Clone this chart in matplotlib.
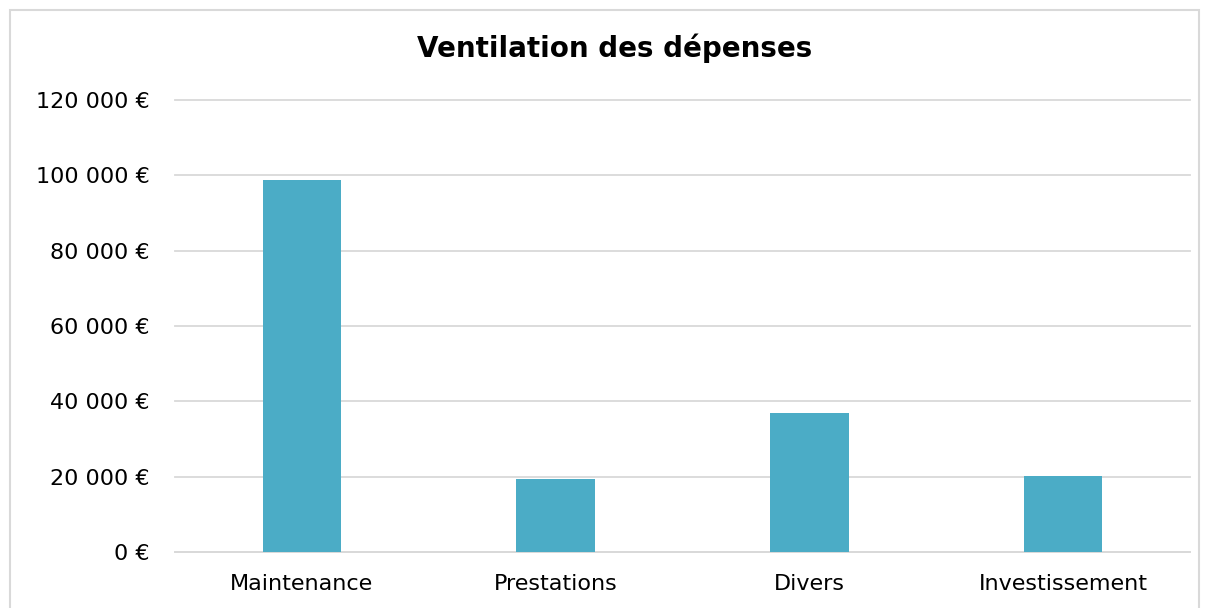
import matplotlib.pyplot as plt
from matplotlib.patches import Rectangle
from matplotlib.ticker import FuncFormatter

categories = ["Maintenance", "Prestations", "Divers", "Investissement"]
values = [98700, 19450, 36900, 20100]
yticks = [0, 20000, 40000, 60000, 80000, 100000, 120000]

plt.rcParams['font.family'] = ['DejaVu Sans']

fig = plt.figure(figsize=(12.09, 6.08), dpi=100)
ax = fig.add_axes([175 / 1209, 1 - 552 / 608, (1190 - 175) / 1209, (552 - 100) / 608])

# chart border like excel
fig.patches.append(Rectangle((10 / 1209, -0.1), (1199 - 10) / 1209, 1.1 - 10 / 608,
                             transform=fig.transFigure, fill=False,
                             edgecolor='#D9D9D9', linewidth=1.5))

ax.bar(range(len(categories)), values, width=0.31, color='#4BACC6', zorder=3)

ax.set_xlim(-0.5, 3.5)
ax.set_ylim(0, 120000)
ax.set_yticks(yticks)
ax.yaxis.set_major_formatter(FuncFormatter(lambda v, p: f"{int(v):,} €".replace(",", " ")))
ax.set_xticks(range(len(categories)))
ax.set_xticklabels(categories)
ax.grid(axis='y', color='#D9D9D9', linewidth=1.3, zorder=0)
for l in ax.get_ygridlines():
    l.set_clip_on(False)
for s in ['top', 'right', 'left']:
    ax.spines[s].set_visible(False)
ax.spines['bottom'].set_color('#D9D9D9')
ax.spines['bottom'].set_linewidth(1.3)
ax.tick_params(axis='both', length=0, labelsize=16, colors='black')
ax.tick_params(axis='y', pad=18)
ax.tick_params(axis='x', pad=16)

fig.text(615 / 1209, 1 - 48 / 608, "Ventilation des dépenses", ha='center', va='center',
         fontsize=20, fontweight='bold')

plt.savefig('out.png', dpi=100)
plt.close()
